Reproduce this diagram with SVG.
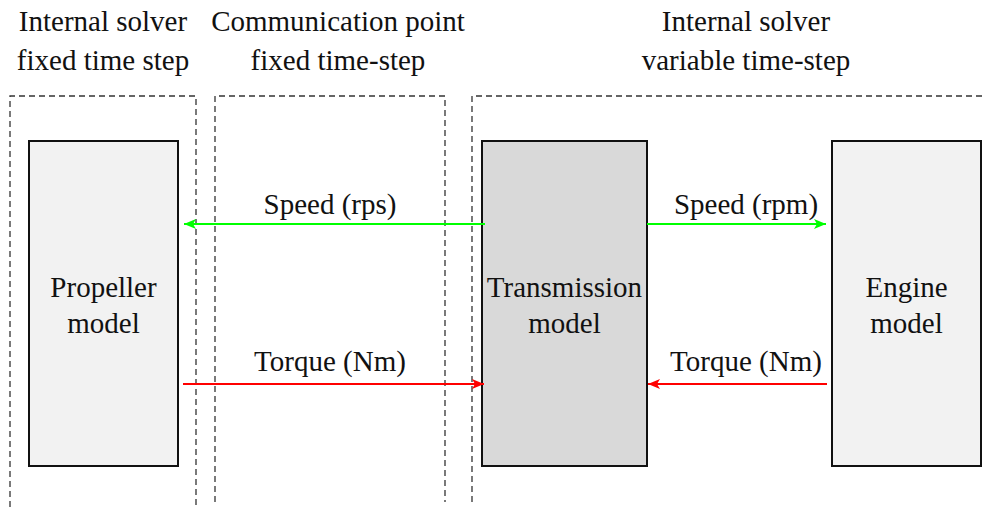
<svg xmlns="http://www.w3.org/2000/svg" width="982" height="507" viewBox="0 0 982 507">
<defs>
<style>
text{font-family:"Liberation Serif","Times New Roman",serif;font-size:29px;fill:#111;text-anchor:middle}
.node{stroke:#111;stroke-width:2}
.dash{fill:none;stroke:#333;stroke-width:1.3;stroke-dasharray:6 4}
.g{stroke:#00ff00;stroke-width:2;fill:none}
.r{stroke:#ff0000;stroke-width:2;fill:none}
</style>
<marker id="ag" markerWidth="12" markerHeight="10" refX="12" refY="5" orient="auto" markerUnits="userSpaceOnUse"><path d="M0,0 L12,5 L0,10 L3,5 Z" fill="#00ff00"/></marker>
<marker id="ar" markerWidth="12" markerHeight="10" refX="12" refY="5" orient="auto" markerUnits="userSpaceOnUse"><path d="M0,0 L12,5 L0,10 L3,5 Z" fill="#ff0000"/></marker>
</defs>
<rect width="982" height="507" fill="#fff"/>
<g id="regions">
<path class="dash" d="M10,507 V96 H196 V507"/>
<path class="dash" d="M215,502 V96 H445 V502"/>
<path class="dash" d="M472,502 V96 H982"/>
<text x="103" y="31">Internal solver</text>
<text x="103" y="70">fixed time step</text>
<text x="338" y="31">Communication point</text>
<text x="338" y="70">fixed time-step</text>
<text x="746" y="31">Internal solver</text>
<text x="746" y="70">variable time-step</text>
</g>
<g id="propeller">
<rect class="node" x="29" y="141" width="149" height="325" fill="#f2f2f2"/>
<text x="103.5" y="297">Propeller</text>
<text x="103.5" y="333">model</text>
</g>
<g id="transmission">
<rect class="node" x="482" y="141" width="165" height="325" fill="#d9d9d9"/>
<text x="564.5" y="297">Transmission</text>
<text x="564.5" y="333">model</text>
</g>
<g id="engine">
<rect class="node" x="832" y="141" width="149" height="325" fill="#f2f2f2"/>
<text x="906.5" y="297">Engine</text>
<text x="906.5" y="333">model</text>
</g>
<g id="connectors">
<line class="g" x1="485" y1="224" x2="184" y2="224" marker-end="url(#ag)"/>
<text x="330" y="214">Speed (rps)</text>
<line class="r" x1="183" y1="384" x2="484" y2="384" marker-end="url(#ar)"/>
<text x="330" y="371">Torque (Nm)</text>
<line class="g" x1="647" y1="224" x2="826" y2="224" marker-end="url(#ag)"/>
<text x="746" y="214">Speed (rpm)</text>
<line class="r" x1="827" y1="384" x2="648" y2="384" marker-end="url(#ar)"/>
<text x="746" y="371">Torque (Nm)</text>
</g>
</svg>
